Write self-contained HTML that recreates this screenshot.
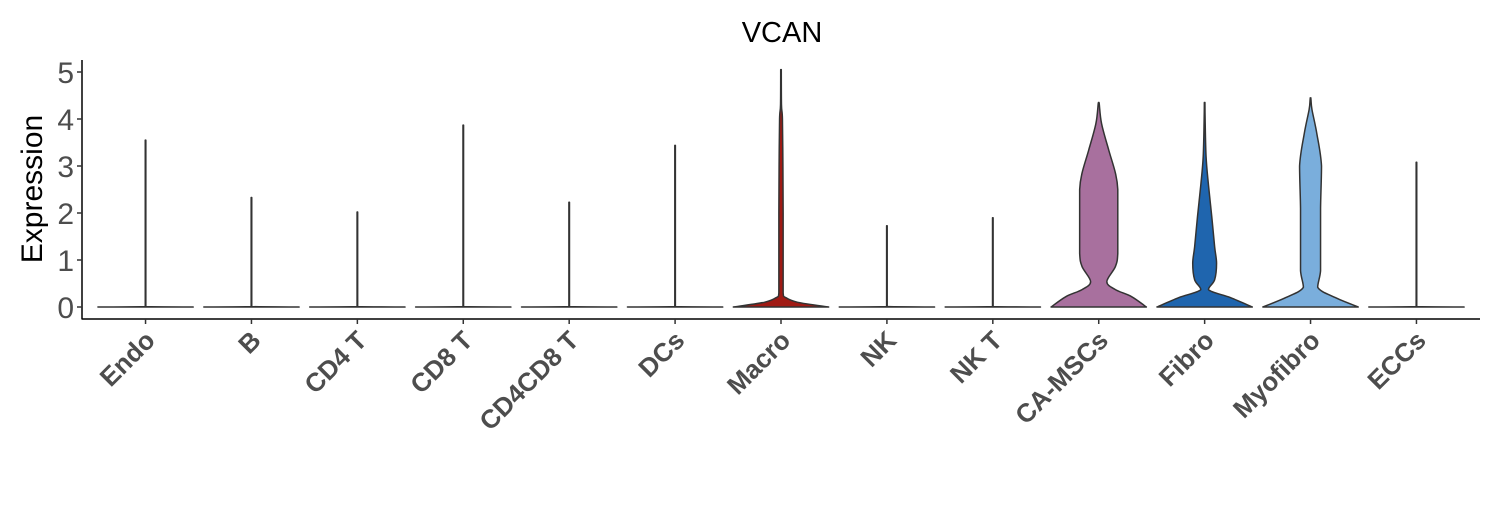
<!DOCTYPE html>
<html><head><meta charset="utf-8"><style>
body{margin:0;background:#fff;}
svg text{font-family:"Liberation Sans",Arial,sans-serif;}
</style></head><body>
<svg id="chart" width="1500" height="500" xmlns="http://www.w3.org/2000/svg"></svg>
<script>
const categories=["Endo","B","CD4 T","CD8 T","CD4CD8 T","DCs","Macro","NK","NK T","CA-MSCs","Fibro","Myofibro","ECCs"];
const maxValues=[3.55,2.33,2.02,3.87,2.23,3.44,5.05,1.73,1.9,4.35,4.35,4.45,3.08];
const fills=["#ffffff","#ffffff","#ffffff","#ffffff","#ffffff","#ffffff","#A01A14","#ffffff","#ffffff","#A8709E","#1F65AE","#7AAEDC","#ffffff"];
// density profiles: expression levels and relative half-widths (0..1)
const profLevels=[
 null,null,null,null,null,null,
 [0,0.1,0.2,0.3,1,2,3,4,4.3],
 null,null,
 [0,0.22,0.37,0.54,0.86,1.14,1.78,2.5,2.85,3.34,3.9,4.33],
 [0,0.2,0.37,0.58,0.93,1.28,1.92,2.6,3.2,4.0],
 [0,0.2,0.42,0.77,1.27,2.1,3.0,3.7,4.2,4.4],
 null];
const profDens=[
 null,null,null,null,null,null,
 [1,0.35,0.1,0.045,0.045,0.045,0.04,0.03,0.01],
 null,null,
 [1,0.69,0.35,0.17,0.35,0.4,0.4,0.4,0.35,0.21,0.06,0.01],
 [1,0.54,0.08,0.21,0.25,0.21,0.15,0.08,0.03,0.01],
 [1,0.52,0.15,0.21,0.21,0.21,0.23,0.13,0.03,0.01],
 null];
const yTicks=[0,1,2,3,4,5];

const svg=document.getElementById('chart');
const NS="http://www.w3.org/2000/svg";
const L=82,R=1480,T=60,B=319;
const step=(R-L)/(categories.length-1+1.2);
const x=i=>L+step*(0.6+i);
const y=v=>307-v*47;
const HW=step*0.45;
function mk(t,a){const e=document.createElementNS(NS,t);for(const k in a)e.setAttribute(k,a[k]);svg.appendChild(e);return e;}

let t=mk('text',{x:782,y:42,'font-size':29,'text-anchor':'middle',fill:'#000'});t.textContent='VCAN';


t=mk('text',{x:0,y:0,'font-size':30,'text-anchor':'middle',fill:'#000',transform:'translate(42,189) rotate(-90)'});t.textContent='Expression';



const clamp=(v,a,b)=>Math.max(Math.min(a,b),Math.min(Math.max(a,b),v));
function seg(arr){let s='';for(let k=0;k<arr.length-1;k++){const p0=arr[Math.max(k-1,0)],p1=arr[k],p2=arr[k+1],p3=arr[Math.min(k+2,arr.length-1)];
  const c1x=clamp(p1[0]+(p2[0]-p0[0])/6,p1[0],p2[0]),c1y=clamp(p1[1]+(p2[1]-p0[1])/6,p1[1],p2[1]);
  const c2x=clamp(p2[0]-(p3[0]-p1[0])/6,p1[0],p2[0]),c2y=clamp(p2[1]-(p3[1]-p1[1])/6,p1[1],p2[1]);
  s+=` C${c1x},${c1y} ${c2x},${c2y} ${p2[0]},${p2[1]}`;}return s;}

categories.forEach((c,i)=>{
  let lv=profLevels[i],dn=profDens[i];
  if(!lv){lv=[0,0.008,0.03];dn=[1,0.01,0.006];}
  lv=lv.concat([maxValues[i]]);dn=dn.concat([0.006]);
  const cx=x(i);
  const right=lv.map((v,k)=>[cx+dn[k]*HW,y(v)]);
  const left=lv.map((v,k)=>[cx-dn[k]*HW,y(v)]).reverse();
  const d=`M${right[0][0]},${right[0][1]}`+seg(right)+` L${left[0][0]},${left[0][1]}`+seg(left)+'Z';
  const p=mk('path',{d:d,fill:fills[i],stroke:'#333','stroke-width':1.5,'stroke-linejoin':'round'});
  
  
});

let a=mk('line',{x1:L,y1:T,x2:L,y2:B+0.5,stroke:'#000','stroke-width':1.5});


a=mk('line',{x1:L,y1:B,x2:R,y2:B,stroke:'#000','stroke-width':1.5});


yTicks.forEach(v=>{
  const tk=mk('line',{x1:L-5,y1:y(v),x2:L,y2:y(v),stroke:'#333','stroke-width':1.5});
  
  
  const tl=mk('text',{x:L-8,y:y(v)+11,'font-size':30,'text-anchor':'end',fill:'#4d4d4d'});tl.textContent=v;
  
  
});
categories.forEach((c,i)=>{
  const tk=mk('line',{x1:x(i),y1:B,x2:x(i),y2:B+5,stroke:'#333','stroke-width':1.5});
  
  
  const tl=mk('text',{x:0,y:0,'font-size':26,'font-weight':'bold','text-anchor':'end',fill:'#4d4d4d',transform:`translate(${x(i)+11},${B+23}) rotate(-45)`});
  tl.textContent=c;
  
  
});
</script>
</body></html>
